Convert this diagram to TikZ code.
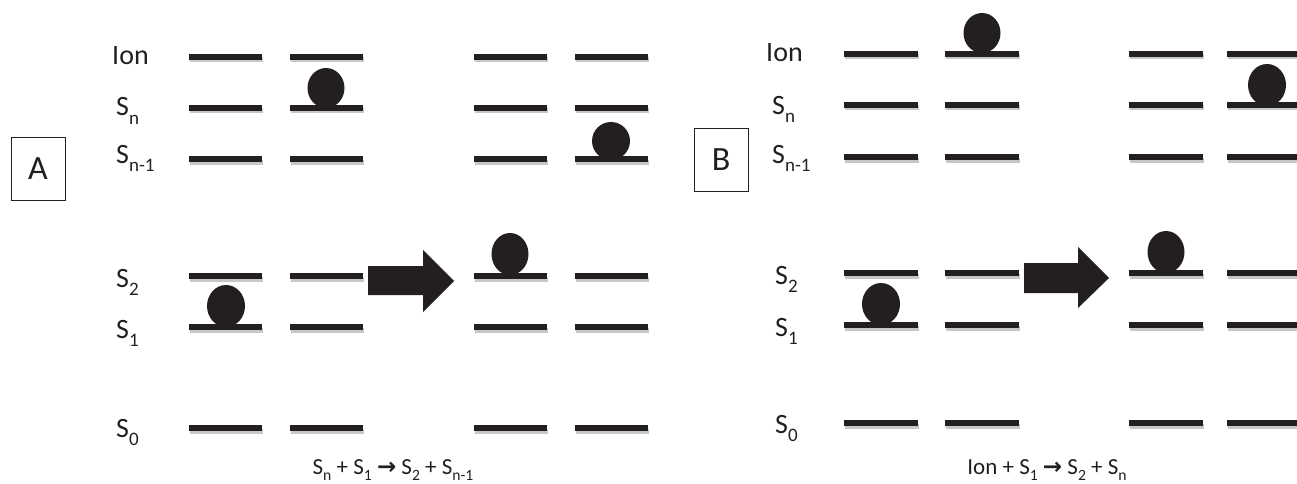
\documentclass[tikz,border=0pt]{standalone}
\usepackage{fontspec}
\setmainfont{Carlito}
\newfontfamily\symfont{DejaVu Sans}
\definecolor{ink}{HTML}{231F20}
\newcommand{\sbs}[1]{\raisebox{-0.3em}{\scalebox{0.68}{#1}}}
\newcommand{\mylev}[3]{%
  \draw[shd] (#1+1,#3+3) -- (#2+1,#3+3);
  \draw[lvl] (#1,#3) -- (#2,#3);}
\begin{document}
\begin{tikzpicture}[x=1pt,y=-1pt,
  lvl/.style={line width=5.5pt,draw=ink},
  shd/.style={line width=5pt,draw=black!22},
  ball/.style={fill=ink},
  lab/.style={anchor=base west,inner sep=0pt,text=ink,font=\fontsize{28}{30}\selectfont},
  captext/.style={anchor=base,inner sep=0pt,text=ink,font=\fontsize{23}{25}\selectfont},
  boxlab/.style={draw=ink,line width=1pt,minimum width=54pt,minimum height=63pt,inner sep=0pt,text=ink,font=\fontsize{34}{36}\selectfont},
  blockarrow/.style={fill=ink}]
\useasboundingbox (0,0) rectangle (1297,484);

% ---------------- Panel A ----------------
\node[boxlab] (boxA) at (38,168.5) {A};
\node[lab] (aIon) at (112,65) {Ion};
\node[lab] (aSn) at (116,116) {S\sbs{n}};
\node[lab] (aSn1) at (116,163) {S\sbs{n-1}};
\node[lab] (aS2) at (116,287) {S\sbs{2}};
\node[lab] (aS1) at (116,338) {S\sbs{1}};
\node[lab] (aS0) at (116,437) {S\sbs{0}};

\foreach \y in {57,108,159,276,327,428}{
  \mylev{189}{262}{\y}
  \mylev{290}{363}{\y}
  \mylev{474}{547}{\y}
  \mylev{575}{648}{\y}
}
\fill[ball] (326,88) ellipse [x radius=18.5pt,y radius=20pt];
\fill[ball] (611,141) ellipse [x radius=19pt,y radius=19pt];
\fill[ball] (226,306) ellipse [x radius=19pt,y radius=21pt];
\fill[ball] (510,254) ellipse [x radius=18.5pt,y radius=21pt];
\fill[blockarrow] (368,266) -- (423,266) -- (423,250) -- (454,281) -- (423,312) -- (423,295) -- (368,295) -- cycle;
\node[captext] (capA) at (393,474) {S\sbs{n} + S\sbs{1} {\symfont\bfseries →} S\sbs{2} + S\sbs{n-1}};

% ---------------- Panel B ----------------
\node[boxlab] (boxB) at (721,159.5) {B};
\node[lab] (bIon) at (766,62) {Ion};
\node[lab] (bSn) at (772,114) {S\sbs{n}};
\node[lab] (bSn1) at (772,163) {S\sbs{n-1}};
\node[lab] (bS2) at (775,284) {S\sbs{2}};
\node[lab] (bS1) at (775,336) {S\sbs{1}};
\node[lab] (bS0) at (775,433) {S\sbs{0}};

\foreach \y in {54,105,157,273,325,423}{
  \mylev{844}{918}{\y}
  \mylev{945}{1019}{\y}
  \mylev{1129}{1203}{\y}
  \mylev{1227}{1305}{\y}
}
\fill[ball] (982,33) ellipse [x radius=18.5pt,y radius=20pt];
\fill[ball] (1267,85) ellipse [x radius=19pt,y radius=21pt];
\fill[ball] (881,304) ellipse [x radius=19pt,y radius=21pt];
\fill[ball] (1166,252) ellipse [x radius=18.5pt,y radius=21pt];
\fill[blockarrow] (1024,263) -- (1078,263) -- (1078,247) -- (1109,278) -- (1078,308) -- (1078,293) -- (1024,293) -- cycle;
\node[captext] (capB) at (1047,474) {Ion + S\sbs{1} {\symfont\bfseries →} S\sbs{2} + S\sbs{n}};
\end{tikzpicture}
\end{document}
